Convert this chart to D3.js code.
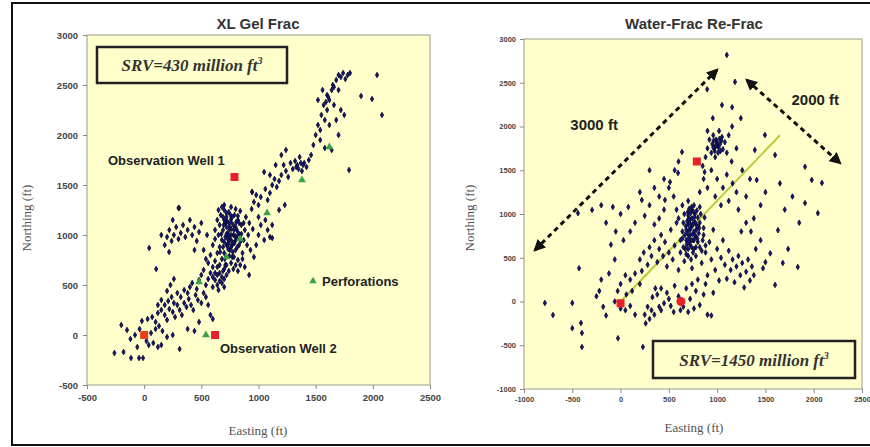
<html>
<head>
    <meta charset="utf-8">
    <title>Microseismic SRV</title>
    <script src="https://d3js.org/d3.v7.min.js"></script>
    <style>
        body { margin: 0; background: #fff; }
        .tick text { font-family: "Liberation Sans", Arial, sans-serif; font-weight: bold; fill: #444; }
        .axis path, .axis line { stroke: #888; }
        .title { font-family: "Liberation Sans", Arial, sans-serif; font-weight: bold; font-size: 15px; fill: #333; }
        .axlabel { font-family: "Liberation Serif", "Times New Roman", serif; font-size: 13px; fill: #555; }
        .note { font-family: "Liberation Sans", Arial, sans-serif; font-weight: bold; fill: #222; }
        .srv { font-family: "Liberation Serif", "Times New Roman", serif; font-weight: bold; font-style: italic; font-size: 17px; fill: #333; }
    </style>
</head>
<body>
<svg width="870" height="447"></svg>
<script>

    // ---- XL Gel Frac (left) ----
    var gelEvents = [
        [-260,-180],[-180,-170],[-115,-230],[-45,-230],[-10,-230],[-200,100],[-150,50],[-120,-40],[-80,0],[-40,60],
        [-60,-120],[20,-60],[40,-100],[80,-80],[120,-120],[150,-100],[60,20],[100,60],[-20,140],[30,160],
        [70,180],[100,130],[130,90],[160,40],[200,-20],[250,0],[310,-140],[480,130],[440,40],[380,60],
        [120,220],[150,250],[180,200],[200,150],[220,260],[250,230],[270,180],[290,300],[310,250],[330,200],
        [350,320],[370,280],[390,360],[410,300],[430,250],[450,400],[180,300],[210,340],[240,380],[260,320],
        [290,420],[320,380],[350,450],[380,420],[400,480],[420,520],[460,460],[470,350],[500,320],[520,420],
        [540,380],[560,300],[580,200],[600,160],[200,440],[230,500],[260,560],[150,350],[120,300],
        [480,550],[500,600],[520,650],[540,500],[560,560],[580,620],[600,480],[600,680],[620,550],[620,740],
        [640,600],[640,820],[650,450],[660,700],[660,880],[680,520],[680,760],[690,640],[700,820],[700,560],
        [710,700],[720,900],[560,720],[580,800],[540,760],[520,850],[600,900],[620,960],[550,1000],
        [180,900],[200,980],[220,1050],[240,940],[260,1000],[280,1080],[300,960],[320,1020],[340,1100],[360,980],
        [380,1050],[400,1150],[420,1000],[440,1080],[300,1270],[150,1000],[250,1150],[460,940],[480,1030],[500,1120],
        [440,850],
        [620,1050],[640,1150],[650,1000],[660,1100],[670,1200],[680,950],[690,1050],[700,1150],[700,1250],[710,980],
        [720,1080],[720,1180],[730,900],[730,1020],[740,1120],[740,1230],[750,850],[750,960],[760,1060],[760,1160],
        [770,780],[770,900],[780,1000],[780,1100],[790,1200],[800,850],[800,950],[810,1050],[820,1150],[820,750],
        [830,900],[840,1000],[850,1100],[860,820],[870,950],[880,1050],[890,1180],[900,900],[910,1000],[920,1120],
        [930,850],[720,700],[740,640],[760,720],[780,660],[800,700],[820,640],[840,700],[860,760],[880,680],
        [918,600],[700,1300],[760,1280],[800,1260],[840,1240],[680,1280],[650,1250],
        [690,880],[710,1120],[730,960],[750,1080],[770,1180],[790,920],[810,980],[830,1120],[760,880],[740,1000],
        [700,930],[720,1010],[745,1060],[765,940],[785,1050],[805,1130],[725,1140],[755,1200],[795,990],[815,880],
        [675,1010],[695,1100],[735,860],[775,830],[825,1020],[845,940],[665,830],[705,760],[745,790],[785,780],
        [640,680],[660,620],[680,580],[700,660],[620,620],[600,580],[660,540],[700,480],[640,500],[720,600],
        [760,1000],[780,920],[720,1220],[690,1180],[850,1010],[870,1120],[760,1130],[740,920],[800,1080],[820,1190],
        [960,780],[980,900],[1000,1000],[1020,1100],[1050,950],[1080,1050],[1100,980],[1120,970],[1000,1180],[1060,1150],
        [1120,1100],[950,1060],
        [940,1260],[960,1330],[980,1400],[944,1430],[1000,1300],[1020,1380],[1049,1630],[1060,1460],[1080,1350],[1100,1420],
        [1120,1500],[1140,1560],[1160,1480],[1180,1540],[1200,1600],[1220,1700],[1240,1640],[1260,1580],[1280,1720],[1300,1660],
        [1320,1740],[1340,1700],[1360,1780],[1380,1640],[1400,1720],[1420,1680],[1440,1750],[1460,1800],[1200,1800],[1240,1850],
        [1150,1700],[1100,1600],[1180,1250],[1230,1300],[1330,1680],[1350,1660],[1370,1720],[1390,1700],
        [1480,1900],[1500,2000],[1520,2100],[1540,2050],[1550,2200],[1570,2300],[1580,2150],[1600,2400],[1600,2250],[1620,2350],
        [1640,2450],[1650,2500],[1660,2300],[1680,2550],[1700,2450],[1700,2600],[1720,2580],[1740,2620],[1760,2560],[1780,2600],
        [1800,2620],[1560,2450],[1520,2350],[1620,2100],[1680,2150],[1720,2250],[1750,2200],[1700,2000],[1540,1950],[1580,1870],
        [1640,1850],[1610,2380],[1590,2330],[1660,2480],
        [2037,2600],[1897,2390],[1993,2360],[2080,2200],[1792,1650],[44,870],[105,660],[218,830],[306,1270],[944,1430]
    ];
    var gelPerfs = [[540,0],[480,530],[720,780],[840,960],[1075,1220],[1380,1550],[1620,1880]];
    var gelWells = [[0,0],[620,0],[790,1580]];

    // ---- Water-Frac Re-Frac (right) ----
    var waterEvents = [
        [-784,-17],[-700,-155],[-500,-17],[-500,-305],[-410,-245],[-400,-360],[-400,-520],[-430,380],[-27,-420],[231,-520],
        [1600,190],[1735,600],[1680,440],[1835,395],[1475,380],[1630,815],[1100,2817],[1185,2510],[897,2425],
        [-295,1046],[-441,1010],[-200,250],[-220,120],[-180,-60],[-150,-160],[-250,60],[-120,320],[-60,480],[-100,650],
        [-50,800],[-150,900],
        [50,-100],[100,-50],[150,-150],[0,-80],[-60,0],[60,80],[120,120],[200,200],[100,250],[150,320],
        [220,350],[50,300],[0,200],[-30,120],[260,-250],[300,-200],[350,-150],[320,-100],[400,-60],[450,-20],
        [500,30],[550,-120],[380,80],[420,150],
        [200,480],[240,560],[280,420],[300,620],[320,520],[350,700],[380,450],[400,600],[420,760],[440,520],
        [460,680],[480,400],[500,560],[520,820],[540,480],[560,640],[580,900],[600,360],[620,560],[640,720],
        [660,460],[680,820],[700,600],[720,940],[740,380],[760,700],[780,520],[800,860],[820,620],[840,440],
        [860,760],[880,560],[900,300],[920,680],[940,480],[960,820],[980,360],[1000,600],[1020,240],[1040,500],
        [1060,700],[1080,420],[1100,260],[1120,580],[1140,360],[1160,480],[1180,220],[1200,400],[1220,520],[1240,300],
        [1260,440],[1280,160],[1300,340],[1320,480],[1340,240],[1360,400],[1380,300],
        [620,700],[640,800],[650,900],[660,1000],[670,600],[680,700],[690,780],[700,880],[700,980],[710,1060],
        [720,650],[720,760],[730,850],[740,950],[740,1040],[750,560],[750,700],[760,800],[760,900],[770,1000],
        [780,620],[780,740],[790,860],[800,960],[800,680],[810,780],[820,900],[830,1000],[840,580],[850,700],
        [860,840],[700,520],[730,480],[760,600],[680,540],[650,620],[640,1100],[700,1150],[760,1100],[600,950],
        [580,1050],[820,1080],[870,960],[880,640],[690,920],[710,820],[730,700],[750,880],[770,760],[790,1040],
        [705,940],[725,1010],[745,880],[765,960],[785,820],[705,730],[725,830],[745,770],[675,860],[695,1020],
        [755,1030],[775,900],[715,900],[735,1080],[665,760],[795,720],[815,840],[685,650],[705,680],[735,620],
        [0,1000],[80,1080],[150,900],[220,1160],[250,980],[300,1100],[350,880],[400,1200],[450,1050],[460,1160],
        [500,1300],[512,1366],[550,1200],[595,1469],[636,1709],[600,1600],[560,1500],[450,1400],[350,1300],[300,1500],
        [200,1250],[100,800],[30,700],[-80,1080],[-200,1100],[400,950],
        [880,1650],[900,1750],[920,1850],[940,1700],[950,1800],[960,1900],[970,1750],[980,1650],[990,1850],[1000,1780],
        [1010,1700],[1020,1950],[1030,1800],[1050,1880],[1060,1740],[1080,1820],[1100,1700],[1120,1900],[1155,2000],[955,2095],
        [1050,2245],[1155,2220],[1245,2095],[900,1950],[850,1550],[1150,1600],[1200,1750],[870,1480],[960,1760],[1000,1820],
        [975,1720],[995,1800],[1015,1760],[1035,1720],[1045,1840],[985,1780],[1025,1860],[965,1840],
        [820,1250],[860,1400],[900,1300],[940,1500],[980,1200],[1000,1400],[1040,1100],[1060,1300],[1100,1450],[1120,1150],
        [1160,1350],[1200,1250],[1220,1050],[1260,1500],[1300,1200],[1340,1400],[1390,1731],[1410,1389],[1495,1903],[1600,1674],
        [1450,1100],[1500,1250],[1380,950],[1300,900],[1250,800],[1450,700],[1400,600],[1350,800],
        [1910,1540],[1980,1390],[2085,1355],[1910,1125],[2043,1010],[1850,900],[1700,1050],[1780,1200],[1650,1350],[1550,550],
        [1500,450],
        [250,-150],[280,-60],[330,50],[360,150],[420,-100],[480,100],[520,-50],[560,180],[600,60],[650,-60],
        [700,-120],[720,30],[760,-80],[780,120],[820,-40],[860,80],[900,-150],[940,-160],[680,150],[740,200],
        [800,250],[880,200],[960,100],[620,-100]
    ];
    var waterTrack = [[0,0],[1650,1900]];
    var waterWellSquares = [[0,-20],[790,1600]];
    var waterWellCircles = [[625,0]];
    var waterArrows = [
        {from: [-886,589], to: [998,2646], label: "3000 ft", at: [-520,1960]},
        {from: [1308,2531], to: [2271,1583], label: "2000 ft", at: [1770,2250]}
    ];

    var ticksGelX = [-500,0,500,1000,1500,2000,2500];
    var ticksGelY = [-500,0,500,1000,1500,2000,2500,3000];
    var ticksWaterX = [-1000,-500,0,500,1000,1500,2000,2500];
    var ticksWaterY = [-1000,-500,0,500,1000,1500,2000,2500,3000];

    var svg = d3.select("svg");

    // outer frame
    svg.append("rect")
        .attr("x", 12).attr("y", 3)
        .attr("width", 870).attr("height", 442)
        .attr("fill", "none").attr("stroke", "#111").attr("stroke-width", 2);

    var defs = svg.append("defs");
    defs.append("marker")
        .attr("id", "arrow")
        .attr("viewBox", "0 0 10 10")
        .attr("refX", 8).attr("refY", 5)
        .attr("markerWidth", 4).attr("markerHeight", 4)
        .attr("orient", "auto-start-reverse")
        .append("path").attr("d", "M0,0L10,5L0,10z").attr("fill", "#111");

    var plain = function(d) { return String(d); };

    function panel(p) {
        var x = d3.scaleLinear().domain(p.xd).range(p.xr);
        var y = d3.scaleLinear().domain(p.yd).range(p.yr);
        var g = svg.append("g");

        g.append("rect")
            .attr("x", p.xr[0]).attr("y", p.yr[1])
            .attr("width", p.xr[1] - p.xr[0]).attr("height", p.yr[0] - p.yr[1])
            .attr("fill", "#ffffcc").attr("stroke", "#9a9a8a");

        var ax = g.append("g").attr("class", "axis")
            .attr("transform", "translate(0," + p.yr[0] + ")")
            .call(d3.axisBottom(x).tickValues(p.tx).tickFormat(plain).tickSize(4).tickPadding(p.pad));
        var ay = g.append("g").attr("class", "axis")
            .attr("transform", "translate(" + p.xr[0] + ",0)")
            .call(d3.axisLeft(y).tickValues(p.ty).tickFormat(plain).tickSize(4).tickPadding(p.pad));
        ax.selectAll("text").style("font-size", p.fs + "px");
        ay.selectAll("text").style("font-size", p.fs + "px");
        ax.select(".domain").remove();
        ay.select(".domain").remove();

        g.append("text").attr("class", "title")
            .attr("x", p.cx).attr("y", 29).attr("text-anchor", "middle").text(p.title);
        g.append("text").attr("class", "axlabel")
            .attr("x", p.cx).attr("y", p.ly).attr("text-anchor", "middle").text("Easting (ft)");
        g.append("text").attr("class", "axlabel")
            .attr("transform", "translate(" + p.nx + ",218) rotate(-90)")
            .attr("text-anchor", "middle").text("Northing (ft)");

        p.g = g; p.x = x; p.y = y;
        return p;
    }

    function dots(p, data) {
        p.g.append("g").selectAll("path")
            .data(data).enter().append("path")
            .attr("transform", function(d) { return "translate(" + p.x(d[0]) + "," + p.y(d[1]) + ")"; })
            .attr("d", d3.symbol().type(d3.symbolDiamond).size(9))
            .attr("fill", "#15157e")
            .attr("stroke", "#05052a")
            .attr("stroke-width", 0.8);
    }

    function srvBox(g, x0, y0, w, h, num) {
        g.append("rect").attr("x", x0).attr("y", y0).attr("width", w).attr("height", h)
            .attr("fill", "#ffffcc").attr("stroke", "#222").attr("stroke-width", 2.5);
        var t = g.append("text").attr("class", "srv")
            .attr("x", x0 + w / 2).attr("y", y0 + h / 2 + 6).attr("text-anchor", "middle");
        t.append("tspan").text("SRV=" + num + " million ft");
        t.append("tspan").attr("dy", -7).style("font-size", "10px").text("3");
    }

    // left panel
    var L = panel({xd: [-500, 2500], xr: [87, 430], yd: [-500, 3000], yr: [385, 35],
        tx: ticksGelX, ty: ticksGelY, fs: 9.5, pad: 5, cx: 258, ly: 435, nx: 31,
        title: "XL Gel Frac"});
    dots(L, gelEvents);

    L.g.append("g").selectAll("path").data(gelPerfs).enter().append("path")
        .attr("transform", function(d) { return "translate(" + L.x(d[0]) + "," + L.y(d[1]) + ")"; })
        .attr("d", d3.symbol().type(d3.symbolTriangle).size(26))
        .attr("fill", "#3aa04a");
    L.g.append("g").selectAll("rect").data(gelWells).enter().append("rect")
        .attr("x", function(d) { return L.x(d[0]) - 4; })
        .attr("y", function(d) { return L.y(d[1]) - 4; })
        .attr("width", 8).attr("height", 8)
        .attr("fill", function(d, i) { return i == 0 ? "#e8401e" : "#e8202a"; });

    srvBox(L.g, 97, 47, 190, 36, 430);
    L.g.append("text").attr("class", "note").style("font-size", "13px")
        .attr("x", 108).attr("y", 165).text("Observation Well 1");
    L.g.append("text").attr("class", "note").style("font-size", "13px")
        .attr("x", 220).attr("y", 353).text("Observation Well 2");
    L.g.append("path")
        .attr("transform", "translate(313,281)")
        .attr("d", d3.symbol().type(d3.symbolTriangle).size(24))
        .attr("fill", "#3aa04a");
    L.g.append("text").attr("class", "note").style("font-size", "13px")
        .attr("x", 322).attr("y", 286).text("Perforations");

    // right panel
    var R = panel({xd: [-1000, 2500], xr: [524, 862], yd: [-1000, 3000], yr: [389, 39],
        tx: ticksWaterX, ty: ticksWaterY, fs: 7.5, pad: 4, cx: 694, ly: 432, nx: 474,
        title: "Water-Frac Re-Frac"});

    R.g.append("line")
        .attr("x1", R.x(waterTrack[0][0])).attr("y1", R.y(waterTrack[0][1]))
        .attr("x2", R.x(waterTrack[1][0])).attr("y2", R.y(waterTrack[1][1]))
        .attr("stroke", "#b8cc3a").attr("stroke-width", 2);

    dots(R, waterEvents);

    R.g.append("g").selectAll("rect").data(waterWellSquares).enter().append("rect")
        .attr("x", function(d) { return R.x(d[0]) - 4; })
        .attr("y", function(d) { return R.y(d[1]) - 4; })
        .attr("width", 8).attr("height", 8).attr("fill", "#e8202a");
    R.g.append("g").selectAll("circle").data(waterWellCircles).enter().append("circle")
        .attr("cx", function(d) { return R.x(d[0]); })
        .attr("cy", function(d) { return R.y(d[1]); })
        .attr("r", 4.5).attr("fill", "#e8202a");

    R.g.append("g").selectAll("line").data(waterArrows).enter().append("line")
        .attr("x1", function(d) { return R.x(d.from[0]); })
        .attr("y1", function(d) { return R.y(d.from[1]); })
        .attr("x2", function(d) { return R.x(d.to[0]); })
        .attr("y2", function(d) { return R.y(d.to[1]); })
        .attr("stroke", "#111").attr("stroke-width", 3)
        .attr("stroke-dasharray", "5,4")
        .attr("marker-start", "url(#arrow)")
        .attr("marker-end", "url(#arrow)");
    R.g.append("g").selectAll("text").data(waterArrows).enter().append("text")
        .attr("class", "note").style("font-size", "15px")
        .attr("x", function(d) { return R.x(d.at[0]); })
        .attr("y", function(d) { return R.y(d.at[1]); })
        .text(function(d) { return d.label; });

    srvBox(R.g, 653, 341, 202, 37, 1450);

</script>
</body>
</html>
